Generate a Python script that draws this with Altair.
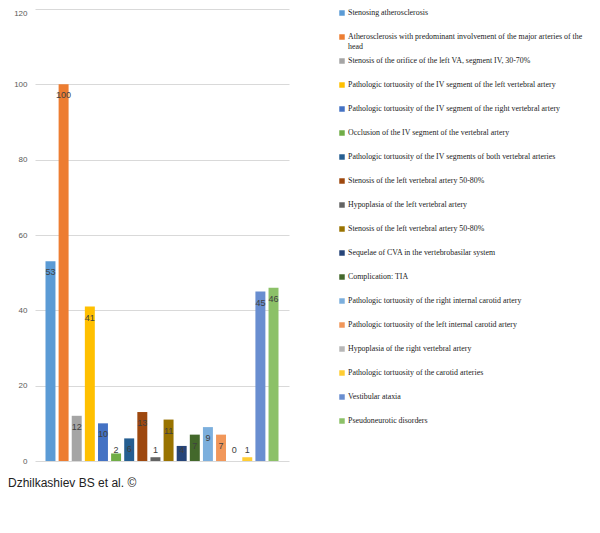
import altair as alt
import pandas as pd

categories = [
    "Stenosing atherosclerosis",
    "Atherosclerosis with predominant involvement of the major arteries of the head",
    "Stenosis of the orifice of the left VA, segment IV, 30-70%",
    "Pathologic tortuosity of the IV segment of the left vertebral artery",
    "Pathologic tortuosity of the IV segment of the right vertebral artery",
    "Occlusion of the IV segment of the vertebral artery",
    "Pathologic tortuosity of the IV segments of both vertebral arteries",
    "Stenosis of the left vertebral artery 50-80%",
    "Hypoplasia of the left vertebral artery",
    "Stenosis of the left vertebral artery 50-80% ",
    "Sequelae of CVA in the vertebrobasilar system",
    "Complication: TIA",
    "Pathologic tortuosity of the right internal carotid artery",
    "Pathologic tortuosity of the left internal carotid artery",
    "Hypoplasia of the right vertebral artery",
    "Pathologic tortuosity of the carotid arteries",
    "Vestibular ataxia",
    "Pseudoneurotic disorders",
]
legend_text = [
    "Stenosing atherosclerosis",
    "Atherosclerosis with predominant involvement of the major arteries of the\nhead",
    "Stenosis of the orifice of the left VA, segment IV, 30-70%",
    "Pathologic tortuosity of the IV segment of the left vertebral artery",
    "Pathologic tortuosity of the IV segment of the right vertebral artery",
    "Occlusion of the IV segment of the vertebral artery",
    "Pathologic tortuosity of the IV segments of both vertebral arteries",
    "Stenosis of the left vertebral artery 50-80%",
    "Hypoplasia of the left vertebral artery",
    "Stenosis of the left vertebral artery 50-80%",
    "Sequelae of CVA in the vertebrobasilar system",
    "Complication: TIA",
    "Pathologic tortuosity of the right internal carotid artery",
    "Pathologic tortuosity of the left internal carotid artery",
    "Hypoplasia of the right vertebral artery",
    "Pathologic tortuosity of the carotid arteries",
    "Vestibular ataxia",
    " Pseudoneurotic disorders",
]
values = [53, 100, 12, 41, 10, 2, 6, 13, 1, 11, 4, 7, 9, 7, 0, 1, 45, 46]
colors = [
    "#5B9BD5", "#ED7D31", "#A5A5A5", "#FFC000", "#4472C4", "#70AD47",
    "#255E91", "#9E480E", "#636363", "#997300", "#264478", "#43682B",
    "#7CAFDD", "#F1975A", "#B7B7B7", "#FFCD33", "#698ED0", "#8CC168",
]
y_ticks = [0, 20, 40, 60, 80, 100, 120]
footer = "Dzhilkashiev BS et al. \u00a9"

df = pd.DataFrame({
    "category": categories,
    "value": values,
    "legend": legend_text,
    "order": list(range(len(categories))),
})

color_scale = alt.Scale(domain=categories, range=colors)
x_enc = alt.X("category:N", sort=categories, axis=None,
              scale=alt.Scale(paddingInner=0.24, paddingOuter=0.8))
y_scale = alt.Scale(domain=[0, 120], nice=False)
y_axis = alt.Axis(values=y_ticks, title=None, domain=False, ticks=False,
                  grid=True, gridColor="#D9D9D9", gridWidth=1,
                  labelColor="#595959", labelFont="Liberation Sans",
                  labelFontSize=8, labelPadding=8,
                  labelBaseline={"condition": {"test": "datum.value == 120", "value": "top"},
                                 "value": "middle"})

bars = alt.Chart(df).mark_bar().encode(
    x=x_enc,
    y=alt.Y("value:Q", scale=y_scale, axis=y_axis),
    color=alt.Color("category:N", scale=color_scale, legend=None),
)

labels = alt.Chart(df).transform_calculate(
    lab_y="max(datum.value - 2.93, 2.93)"
).mark_text(font="Liberation Sans", fontSize=9, color="#404040", baseline="middle").encode(
    x=x_enc,
    y=alt.Y("lab_y:Q", scale=y_scale, axis=y_axis),
    text=alt.Text("value:Q"),
)

leg_y = alt.Y("order:O", axis=None, scale=alt.Scale(padding=0.9167, align=0.0909))

leg_sym = alt.Chart(df).mark_square(size=30, opacity=1).encode(
    x=alt.value(307),
    y=leg_y,
    color=alt.Color("category:N", scale=color_scale, legend=None),
)
leg_txt = alt.Chart(df).mark_text(
    align="left", baseline="middle", font="Liberation Serif", fontSize=7.9,
    color="#222222", lineBreak="\n", lineHeight=10.4,
).encode(
    x=alt.value(313),
    y=leg_y,
    text="legend:N",
)

foot = alt.Chart(pd.DataFrame({"t": [footer]})).mark_text(
    align="left", baseline="middle", font="Liberation Sans", fontSize=12, color="#222222"
).encode(
    x=alt.value(-27), y=alt.value(474), text="t:N"
)

main = alt.layer(bars, labels)
legend = alt.layer(leg_sym, leg_txt)

chart = alt.layer(main, legend, foot).resolve_scale(y="independent").properties(
    width=254, height=452,
    background="white",
    autosize=alt.AutoSizeParams(type="none"),
    padding={"left": 27, "top": 1, "right": 300, "bottom": 40},
).configure_view(strokeWidth=0, stroke="transparent")

chart.save("out.html", embed_options={"renderer": "svg", "actions": False})
